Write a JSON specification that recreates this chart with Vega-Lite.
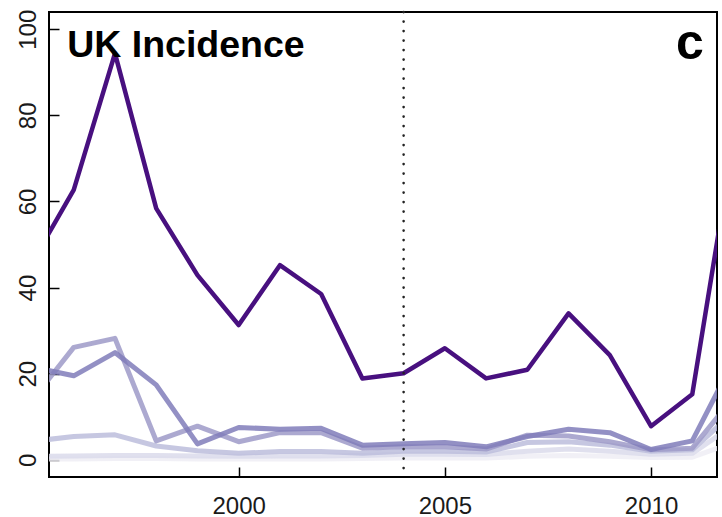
{
  "$schema": "https://vega.github.io/schema/vega-lite/v6.json",
  "width": 668,
  "height": 465,
  "autosize": {"type": "none"},
  "padding": {"left": 49, "top": 12, "right": 5, "bottom": 40},
  "background": "white",
  "config": {
    "view": {"stroke": "black", "strokeWidth": 2},
    "font": "Liberation Sans"
  },
  "datasets": {
    "incidence": [
      {"series": "e", "year": 1995, "value": 0.2}, {"series": "e", "year": 1996, "value": 0.2}, {"series": "e", "year": 1997, "value": 0.3}, {"series": "e", "year": 1998, "value": 0.3}, {"series": "e", "year": 1999, "value": 0.2}, {"series": "e", "year": 2000, "value": 0.2}, {"series": "e", "year": 2001, "value": 0.2}, {"series": "e", "year": 2002, "value": 0.2}, {"series": "e", "year": 2003, "value": 0.3}, {"series": "e", "year": 2004, "value": 0.4}, {"series": "e", "year": 2005, "value": 0.4}, {"series": "e", "year": 2006, "value": 0.4}, {"series": "e", "year": 2007, "value": 0.8}, {"series": "e", "year": 2008, "value": 1.0}, {"series": "e", "year": 2009, "value": 0.8}, {"series": "e", "year": 2010, "value": 0.5}, {"series": "e", "year": 2011, "value": 0.6}, {"series": "e", "year": 2012, "value": 4.0},
      {"series": "d", "year": 1995, "value": 0.8}, {"series": "d", "year": 1996, "value": 0.9}, {"series": "d", "year": 1997, "value": 1.0}, {"series": "d", "year": 1998, "value": 1.0}, {"series": "d", "year": 1999, "value": 0.9}, {"series": "d", "year": 2000, "value": 0.8}, {"series": "d", "year": 2001, "value": 0.9}, {"series": "d", "year": 2002, "value": 0.9}, {"series": "d", "year": 2003, "value": 1.0}, {"series": "d", "year": 2004, "value": 1.3}, {"series": "d", "year": 2005, "value": 1.3}, {"series": "d", "year": 2006, "value": 1.2}, {"series": "d", "year": 2007, "value": 2.0}, {"series": "d", "year": 2008, "value": 2.5}, {"series": "d", "year": 2009, "value": 2.0}, {"series": "d", "year": 2010, "value": 1.3}, {"series": "d", "year": 2011, "value": 1.5}, {"series": "d", "year": 2012, "value": 8.0},
      {"series": "c", "year": 1995, "value": 4.3}, {"series": "c", "year": 1996, "value": 5.4}, {"series": "c", "year": 1997, "value": 5.8}, {"series": "c", "year": 1998, "value": 3.2}, {"series": "c", "year": 1999, "value": 2.1}, {"series": "c", "year": 2000, "value": 1.5}, {"series": "c", "year": 2001, "value": 1.9}, {"series": "c", "year": 2002, "value": 1.9}, {"series": "c", "year": 2003, "value": 1.5}, {"series": "c", "year": 2004, "value": 2.0}, {"series": "c", "year": 2005, "value": 2.0}, {"series": "c", "year": 2006, "value": 1.8}, {"series": "c", "year": 2007, "value": 4.0}, {"series": "c", "year": 2008, "value": 4.2}, {"series": "c", "year": 2009, "value": 3.4}, {"series": "c", "year": 2010, "value": 2.0}, {"series": "c", "year": 2011, "value": 2.3}, {"series": "c", "year": 2012, "value": 11.0},
      {"series": "b", "year": 1995, "value": 14.0}, {"series": "b", "year": 1996, "value": 26.1}, {"series": "b", "year": 1997, "value": 28.2}, {"series": "b", "year": 1998, "value": 4.4}, {"series": "b", "year": 1999, "value": 7.8}, {"series": "b", "year": 2000, "value": 4.2}, {"series": "b", "year": 2001, "value": 6.3}, {"series": "b", "year": 2002, "value": 6.3}, {"series": "b", "year": 2003, "value": 2.7}, {"series": "b", "year": 2004, "value": 3.0}, {"series": "b", "year": 2005, "value": 3.0}, {"series": "b", "year": 2006, "value": 2.5}, {"series": "b", "year": 2007, "value": 5.7}, {"series": "b", "year": 2008, "value": 5.5}, {"series": "b", "year": 2009, "value": 4.2}, {"series": "b", "year": 2010, "value": 2.3}, {"series": "b", "year": 2011, "value": 2.7}, {"series": "b", "year": 2012, "value": 14.5},
      {"series": "a", "year": 1995, "value": 21.5}, {"series": "a", "year": 1996, "value": 19.5}, {"series": "a", "year": 1997, "value": 24.9}, {"series": "a", "year": 1998, "value": 17.4}, {"series": "a", "year": 1999, "value": 3.7}, {"series": "a", "year": 2000, "value": 7.5}, {"series": "a", "year": 2001, "value": 7.1}, {"series": "a", "year": 2002, "value": 7.3}, {"series": "a", "year": 2003, "value": 3.4}, {"series": "a", "year": 2004, "value": 3.7}, {"series": "a", "year": 2005, "value": 4.0}, {"series": "a", "year": 2006, "value": 3.0}, {"series": "a", "year": 2007, "value": 5.4}, {"series": "a", "year": 2008, "value": 7.1}, {"series": "a", "year": 2009, "value": 6.3}, {"series": "a", "year": 2010, "value": 2.4}, {"series": "a", "year": 2011, "value": 4.4}, {"series": "a", "year": 2012, "value": 23.0}
    ],
    "total": [
      {"year": 1995, "value": 46.0}, {"year": 1996, "value": 62.7}, {"year": 1997, "value": 94.4}, {"year": 1998, "value": 58.4}, {"year": 1999, "value": 42.9}, {"year": 2000, "value": 31.3}, {"year": 2001, "value": 45.2}, {"year": 2002, "value": 38.5}, {"year": 2003, "value": 18.9}, {"year": 2004, "value": 20.1}, {"year": 2005, "value": 25.9}, {"year": 2006, "value": 18.9}, {"year": 2007, "value": 20.9}, {"year": 2008, "value": 34.0}, {"year": 2009, "value": 24.3}, {"year": 2010, "value": 7.8}, {"year": 2011, "value": 15.2}, {"year": 2012, "value": 74.0}
    ]
  },
  "encoding": {
    "x": {
      "type": "quantitative",
      "scale": {"domain": [1995.4, 2011.6], "nice": false, "zero": false},
      "axis": {
        "title": null, "grid": false, "domain": false,
        "values": [2000, 2005, 2010], "format": "d",
        "labelFont": "Liberation Sans", "labelFontSize": 24, "labelColor": "#1a1a1a",
        "labelBaseline": "alphabetic", "labelPadding": 46,
        "tickSize": -10, "tickWidth": 1.5, "tickColor": "black"
      }
    },
    "y": {
      "type": "quantitative",
      "scale": {"domain": [-4, 104], "nice": false, "zero": false},
      "axis": {
        "title": null, "grid": false, "domain": false,
        "values": [0, 20, 40, 60, 80, 100],
        "labelFont": "Liberation Sans", "labelFontSize": 24, "labelColor": "#1a1a1a",
        "labelAngle": -90, "labelAlign": "center", "labelBaseline": "alphabetic", "labelPadding": 24,
        "tickSize": -10, "tickWidth": 1.5, "tickColor": "black"
      }
    }
  },
  "layer": [
    {
      "data": {"name": "incidence"},
      "mark": {"type": "line", "clip": true, "strokeWidth": 5, "opacity": 0.85, "strokeJoin": "round"},
      "encoding": {
        "x": {"field": "year", "type": "quantitative"},
        "y": {"field": "value", "type": "quantitative"},
        "color": {
          "field": "series", "type": "nominal",
          "scale": {"domain": ["e", "d", "c", "b", "a"], "range": ["#efedf5", "#dadaeb", "#bcbddc", "#9e9ac8", "#807dba"]},
          "legend": null
        }
      }
    },
    {
      "data": {"name": "total"},
      "mark": {"type": "line", "clip": true, "strokeWidth": 4.5, "color": "#48107f", "strokeJoin": "round"},
      "encoding": {
        "x": {"field": "year", "type": "quantitative"},
        "y": {"field": "value", "type": "quantitative"}
      }
    },
    {
      "data": {"values": [{"year": 2004}]},
      "mark": {"type": "rule", "color": "#222222", "strokeWidth": 2.6, "strokeCap": "round", "strokeDash": [0.1, 9.4]},
      "encoding": {
        "x": {"field": "year", "type": "quantitative"}
      }
    },
    {
      "data": {"values": [{"label": "UK Incidence"}]},
      "mark": {"type": "text", "align": "left", "baseline": "alphabetic", "font": "Liberation Sans", "fontWeight": "bold", "fontSize": 37.5, "color": "black"},
      "encoding": {
        "x": {"datum": 1995.84},
        "y": {"datum": 93.5},
        "text": {"field": "label"}
      }
    },
    {
      "data": {"values": [{"label": "c"}]},
      "mark": {"type": "text", "align": "right", "baseline": "alphabetic", "font": "Liberation Sans", "fontWeight": "bold", "fontSize": 50, "color": "black"},
      "encoding": {
        "x": {"datum": 2011.28},
        "y": {"datum": 93.0},
        "text": {"field": "label"}
      }
    }
  ]
}
